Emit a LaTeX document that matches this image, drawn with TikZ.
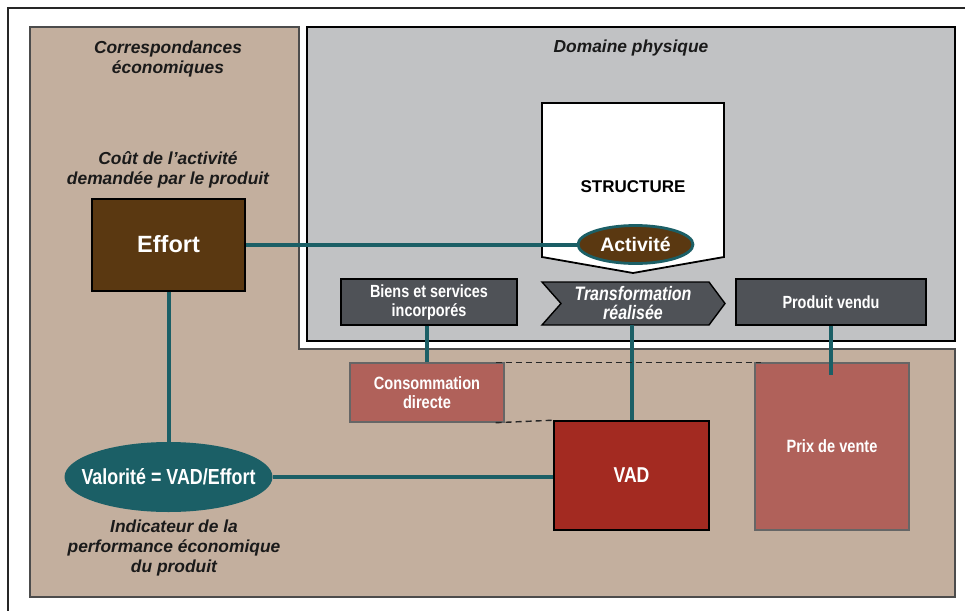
\documentclass[tikz,border=0pt]{standalone}
\usepackage{fontspec}
\setmainfont{Liberation Sans}
\newfontfamily\narrowfont{Liberation Sans}[FakeStretch=0.82]
\usetikzlibrary{shapes.geometric}
\definecolor{beigebg}{HTML}{C3AF9E}
\definecolor{graybg}{HTML}{C1C2C4}
\definecolor{darkfill}{HTML}{4F5257}
\definecolor{tealc}{HTML}{1B5F66}
\definecolor{brownc}{HTML}{5A3811}
\definecolor{rosec}{HTML}{B0615A}
\definecolor{vadred}{HTML}{A32A21}
\definecolor{hdrtext}{HTML}{1A1A1A}
\tikzset{
  hdr/.style={font=\fontsize{17.4}{20}\selectfont\bfseries\itshape, align=center, text=hdrtext, inner sep=0pt},
  dbox/.style={draw=black, line width=1.4pt, fill=darkfill, text=white, align=center,
    font=\narrowfont\fontsize{17.6}{19}\selectfont\bfseries, inner sep=0pt},
  rbox/.style={draw=black!60, line width=1.4pt, fill=rosec, text=white, align=center,
    font=\narrowfont\fontsize{17.8}{19}\selectfont\bfseries, inner sep=0pt},
  conn/.style={draw=tealc, line width=4pt},
  dashln/.style={draw=black!85, line width=1.4pt, dash pattern=on 6pt off 4pt},
}
\begin{document}
\begin{tikzpicture}[x=1pt,y=-1pt]
\useasboundingbox (0,0) rectangle (965,610);
% outer frame
\draw[line width=1.8pt, draw=black!85] (8,8) rectangle (990,640);
% beige L-shaped region
\draw[fill=beigebg, draw=black!70, line width=1.5pt]
  (30,27) -- (299,27) -- (299,349) -- (955,349) -- (955,597) -- (30,597) -- cycle;
% grey region
\draw[fill=graybg, draw=black, line width=1.5pt] (307,27) rectangle (955,341);
% headers
\node[hdr] (corr) at (168,59) {Correspondances\\économiques};
\node[hdr] (dom) at (631,48) {Domaine physique};
\node[hdr] (cout) at (168,170) {Coût de l’activité\\demandée par le produit};
\node[hdr] (indic) at (174,548) {Indicateur de la\\performance économique\\du produit};
% structure pentagon
\draw[line width=1.8pt, fill=white] (542,103) -- (724,103) -- (724,257) -- (633,273) -- (542,257) -- cycle;
\node[font=\fontsize{17}{20}\selectfont\bfseries, inner sep=0pt] (struct) at (633,187) {STRUCTURE};
% transformation arrow
\draw[line width=1.4pt, fill=darkfill] (542,282) -- (709,282) -- (725,303.5) -- (709,325) -- (542,325) -- (561,303.5) -- cycle;
\node[text=white, align=center, inner sep=0pt, font=\narrowfont\fontsize{19.5}{19}\selectfont\bfseries\itshape] (trans) at (633,303) {Transformation\\réalisée};
\coordinate (transb) at (631.5,325);
% boxes
\node[dbox, minimum width=176pt, minimum height=46pt] (biens) at (429,302) {Biens et services\\incorporés};
\node[dbox, minimum width=190pt, minimum height=46pt] (produit) at (831,302) {Produit vendu};
\node[draw=black, line width=2pt, fill=brownc, minimum width=153pt, minimum height=92pt, text=white,
  font=\fontsize{23.5}{26}\selectfont\bfseries, inner sep=0pt] (effort) at (168.5,244.5) {Effort};
\node[rbox, minimum width=154pt, minimum height=59pt] (conso) at (427,392.5) {Consommation\\directe};
\node[rbox, minimum width=154pt, minimum height=167pt] (prix) at (832,446.5) {Prix de vente};
\node[draw=black, line width=1.6pt, fill=vadred, minimum width=155pt, minimum height=109pt, text=white,
  font=\narrowfont\fontsize{21.5}{24}\selectfont\bfseries, inner sep=0pt] (vad) at (631.5,475.5) {VAD};
\node[ellipse, fill=tealc, minimum width=208pt, minimum height=70pt, inner xsep=-15pt, inner ysep=0pt, text=white,
  font=\narrowfont\fontsize{21.8}{24}\selectfont\bfseries] (valor) at (168.5,477) {Valorité = VAD/Effort};
\node[ellipse, draw=tealc, line width=2.8pt, fill=brownc, minimum width=115pt, minimum height=38pt,
  inner sep=0pt, text=white, font=\fontsize{19.5}{22}\selectfont\bfseries] (activ) at (635.5,244.5) {Activité};
% connectors
\draw[conn] (effort.east) -- (activ.west);
\draw[conn] (effort.south) -- (valor.north);
\draw[conn] (valor.east) -- (valor.east -| vad.west);
\draw[conn] (biens.south -| conso.north) -- (conso.north);
\draw[conn] (transb) -- (transb |- vad.north);
\coordinate (pend) at (831,375);
\draw[conn] (produit.south) -- (pend);
% dashed bracket lines
\draw[dashln] ([xshift=-9pt]conso.north east) -- ([xshift=7pt]prix.north west);
\draw[dashln] ([xshift=-9pt]conso.south east) -- (vad.north west);
\end{tikzpicture}
\end{document}
